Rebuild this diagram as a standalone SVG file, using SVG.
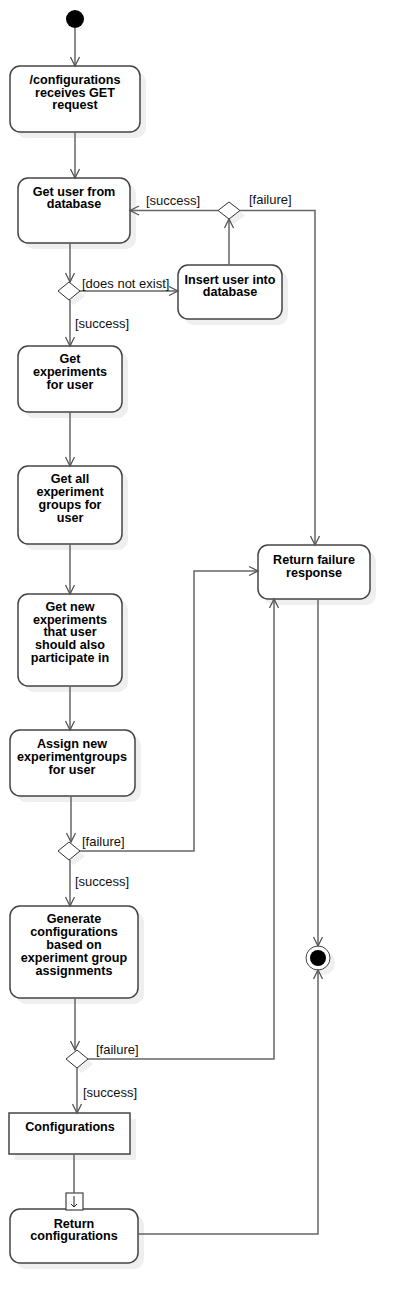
<svg xmlns="http://www.w3.org/2000/svg" width="410" height="1303" viewBox="0 0 410 1303">
<style>
.node{fill:#fff;stroke:#444;stroke-width:1.5}
.sh{fill:#efefef;stroke:none}
.t{font-family:"Liberation Sans",Arial,sans-serif;font-size:12.6px;font-weight:bold;fill:#000;text-anchor:middle}
.l{font-family:"Liberation Sans",Arial,sans-serif;font-size:13px;fill:#111}
.c{fill:none;stroke:#666;stroke-width:1.5}
.dm{fill:#fff;stroke:#333;stroke-width:1}
</style>
<defs>
<marker id="a" markerWidth="12" markerHeight="12" refX="10" refY="6" orient="auto" markerUnits="userSpaceOnUse">
<path d="M1,1.5 L10,6 L1,10.5" fill="none" stroke="#555" stroke-width="1.3"/>
</marker>
</defs>
<rect width="410" height="1303" fill="#fff"/>
<g id="start"><circle cx="75" cy="19" r="9" fill="#000"/></g>
<g id="n1">
<rect class="sh" x="16" y="72" width="130" height="66" rx="10"/>
<rect class="node" x="10" y="66" width="130" height="66" rx="10"/>
<text class="t" x="75" y="84">/configurations</text>
<text class="t" x="75" y="97">receives GET</text>
<text class="t" x="75" y="109">request</text>
</g>
<g id="n2">
<rect class="sh" x="24" y="184" width="112" height="65" rx="10"/>
<rect class="node" x="18" y="178" width="112" height="65" rx="10"/>
<text class="t" x="74" y="196">Get user from</text>
<text class="t" x="74" y="208">database</text>
</g>
<g id="d1">
<path class="sh" d="M74,287 L85,296 L74,305 L63,296Z"/>
<path class="dm" d="M69,282 L80,291 L69,300 L58,291Z"/>
</g>
<g id="n_insert">
<rect class="sh" x="184" y="271" width="104" height="54" rx="10"/>
<rect class="node" x="178" y="265" width="104" height="54" rx="10"/>
<text class="t" x="230" y="284">Insert user into</text>
<text class="t" x="230" y="296">database</text>
</g>
<g id="d2">
<path class="sh" d="M234,207 L245,215.5 L234,224 L223,215.5Z"/>
<path class="dm" d="M229,202 L240,210.5 L229,219 L218,210.5Z"/>
</g>
<g id="n3">
<rect class="sh" x="24" y="352" width="104" height="66" rx="10"/>
<rect class="node" x="18" y="346" width="104" height="66" rx="10"/>
<text class="t" x="70" y="363">Get</text>
<text class="t" x="70" y="376">experiments</text>
<text class="t" x="70" y="389">for user</text>
</g>
<g id="n4">
<rect class="sh" x="24" y="472" width="104" height="78" rx="10"/>
<rect class="node" x="18" y="466" width="104" height="78" rx="10"/>
<text class="t" x="70" y="483">Get all</text>
<text class="t" x="70" y="496">experiment</text>
<text class="t" x="70" y="509">groups for</text>
<text class="t" x="70" y="522">user</text>
</g>
<g id="n5">
<rect class="sh" x="24" y="600" width="104" height="92" rx="10"/>
<rect class="node" x="18" y="594" width="104" height="92" rx="10"/>
<text class="t" x="70" y="611">Get new</text>
<text class="t" x="70" y="624">experiments</text>
<text class="t" x="70" y="636">that user</text>
<text class="t" x="70" y="649">should also</text>
<text class="t" x="70" y="662">participate in</text>
</g>
<g id="n_fail">
<rect class="sh" x="264" y="551" width="112" height="54" rx="10"/>
<rect class="node" x="258" y="545" width="112" height="54" rx="10"/>
<text class="t" x="314" y="564">Return failure</text>
<text class="t" x="314" y="577">response</text>
</g>
<g id="n6">
<rect class="sh" x="16" y="736" width="125" height="66" rx="10"/>
<rect class="node" x="10" y="730" width="125" height="66" rx="10"/>
<text class="t" x="72" y="748">Assign new</text>
<text class="t" x="72" y="761">experimentgroups</text>
<text class="t" x="72" y="774">for user</text>
</g>
<g id="d3">
<path class="sh" d="M74,847 L85,856 L74,865 L63,856Z"/>
<path class="dm" d="M69,842 L80,851 L69,860 L58,851Z"/>
</g>
<g id="n7">
<rect class="sh" x="16" y="912" width="128" height="92" rx="10"/>
<rect class="node" x="10" y="906" width="128" height="92" rx="10"/>
<text class="t" x="74" y="923">Generate</text>
<text class="t" x="74" y="936">configurations</text>
<text class="t" x="74" y="949">based on</text>
<text class="t" x="74" y="962">experiment group</text>
<text class="t" x="74" y="975">assignments</text>
</g>
<g id="d4">
<path class="sh" d="M82,1055 L93,1064 L82,1073 L71,1064Z"/>
<path class="dm" d="M77,1050 L88,1059 L77,1068 L66,1059Z"/>
</g>
<g id="end">
<circle class="sh" cx="323" cy="963" r="12"/>
<circle cx="318" cy="958" r="12" fill="#fff" stroke="#444" stroke-width="1"/>
<circle cx="318" cy="958" r="8" fill="#000"/>
</g>
<g id="n_conf">
<rect class="sh" x="15" y="1119" width="121" height="41"/>
<rect class="node" x="9" y="1113" width="121" height="41"/>
<text class="t" x="70" y="1131">Configurations</text>
</g>
<g id="n_ret">
<rect class="sh" x="16" y="1215" width="128" height="54" rx="10"/>
<rect class="node" x="10" y="1209" width="128" height="54" rx="10"/>
<text class="t" x="74" y="1228">Return</text>
<text class="t" x="74" y="1240">configurations</text>
<rect x="66" y="1193" width="17" height="17" fill="#fff" stroke="#444" stroke-width="1.2"/>
<path d="M74,1196 V1207 M71,1204 L74,1207 L77,1204" fill="none" stroke="#222" stroke-width="1"/>
</g>
<g id="connectors">
<path class="c" d="M75,28 V66" marker-end="url(#a)"/>
<path class="c" d="M75,132 V178" marker-end="url(#a)"/>
<path class="c" d="M70,243 V282" marker-end="url(#a)"/>
<path class="c" d="M80,291 H178" marker-end="url(#a)"/>
<path class="c" d="M70,300 V346" marker-end="url(#a)"/>
<path class="c" d="M229,265 V219" marker-end="url(#a)"/>
<path class="c" d="M218,210.5 H130" marker-end="url(#a)"/>
<path class="c" d="M240,210.5 H315 V545" marker-end="url(#a)"/>
<path class="c" d="M70,412 V466" marker-end="url(#a)"/>
<path class="c" d="M70,544 V594" marker-end="url(#a)"/>
<path class="c" d="M70,686 V730" marker-end="url(#a)"/>
<path class="c" d="M71,796 V842" marker-end="url(#a)"/>
<path class="c" d="M80,851 H194 V571 H258" marker-end="url(#a)"/>
<path class="c" d="M70,860 V906" marker-end="url(#a)"/>
<path class="c" d="M75,998 V1050" marker-end="url(#a)"/>
<path class="c" d="M88,1059 H274 V599" marker-end="url(#a)"/>
<path class="c" d="M77,1068 V1113" marker-end="url(#a)"/>
<path class="c" d="M318,599 V946" marker-end="url(#a)"/>
<path class="c" d="M74,1154 V1193"/>
<path class="c" d="M138,1234 H318 V970" marker-end="url(#a)"/>
<text class="l" x="146" y="205">[success]</text>
<text class="l" x="249" y="204">[failure]</text>
<text class="l" x="82" y="288">[does not exist]</text>
<text class="l" x="75" y="328">[success]</text>
<text class="l" x="82" y="846">[failure]</text>
<text class="l" x="75" y="886">[success]</text>
<text class="l" x="96" y="1054">[failure]</text>
<text class="l" x="83" y="1097">[success]</text>
</g>
</svg>
